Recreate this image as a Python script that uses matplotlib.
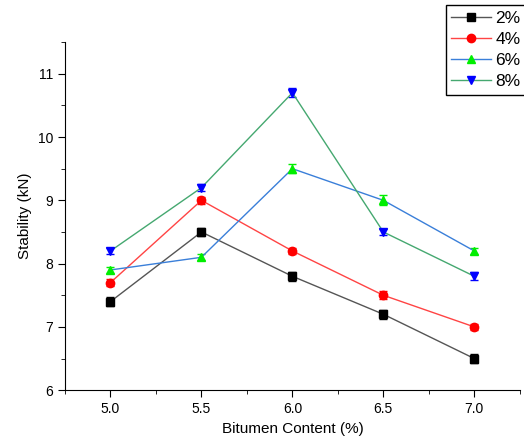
import matplotlib.pyplot as plt
from matplotlib.ticker import MultipleLocator

# Datos
contenido = [5.0, 5.5, 6.0, 6.5, 7.0]
etiquetas = ['2%', '4%', '6%', '8%']
est_2 = [7.4, 8.5, 7.8, 7.2, 6.5]
est_4 = [7.7, 9.0, 8.2, 7.5, 7.0]
est_6 = [7.9, 8.1, 9.5, 9.0, 8.2]
est_8 = [8.2, 9.2, 10.7, 8.5, 7.8]
err_2 = [0.07, 0.07, 0.07, 0.07, 0.07]
err_4 = [0.05, 0.05, 0.05, 0.06, 0.05]
err_6 = [0.05, 0.05, 0.07, 0.08, 0.05]
err_8 = [0.05, 0.06, 0.07, 0.05, 0.06]

series = [est_2, est_4, est_6, est_8]
errores = [err_2, err_4, err_6, err_8]
colores_linea = ['#555555', '#ff4444', '#3a7fd9', '#45a870']
colores_marca = ['black', 'red', '#00ee00', 'blue']
marcas = ['s', 'o', '^', 'v']

plt.rcParams['font.family'] = ['Liberation Sans', 'DejaVu Sans']

fig = plt.figure(figsize=(5.24, 4.48), dpi=100)
ax = fig.add_axes([0.124, 0.129, 0.868, 0.777])

lineas = []
for y, e, cl, cm, m, lab in zip(series, errores, colores_linea, colores_marca, marcas, etiquetas):
    c = ax.errorbar(contenido, y, yerr=e, color=cl, lw=1.0, marker=m, ms=6,
                    mfc=cm, mec=cm, ecolor=cm, elinewidth=1.0, capsize=3, label=lab)
    lineas.append(c.lines[0])

ax.set_xlim(4.75, 7.25)
ax.set_ylim(6, 11.5)
ax.xaxis.set_major_locator(MultipleLocator(0.5))
ax.xaxis.set_minor_locator(MultipleLocator(0.25))
ax.yaxis.set_major_locator(MultipleLocator(1))
ax.yaxis.set_minor_locator(MultipleLocator(0.5))
ax.set_xticks(contenido)
ax.set_xticklabels(['5.0', '5.5', '6.0', '6.5', '7.0'])
ax.spines['top'].set_visible(False)
ax.spines['right'].set_visible(False)
ax.tick_params(which='major', length=5, labelsize=10)
ax.tick_params(which='minor', length=3)
ax.set_xlabel('Bitumen Content (%)', fontsize=11)
ax.set_ylabel('Stability (kN)', fontsize=11)

fig.legend(lineas, etiquetas, loc='upper left', bbox_to_anchor=(446 / 524, 0.988), fontsize=12.5,
           fancybox=False, edgecolor='black', framealpha=1, borderpad=0.3, handlelength=2.3,
           labelspacing=0.35, handletextpad=0.25, borderaxespad=0)

fig.savefig('out.png', dpi=100)
